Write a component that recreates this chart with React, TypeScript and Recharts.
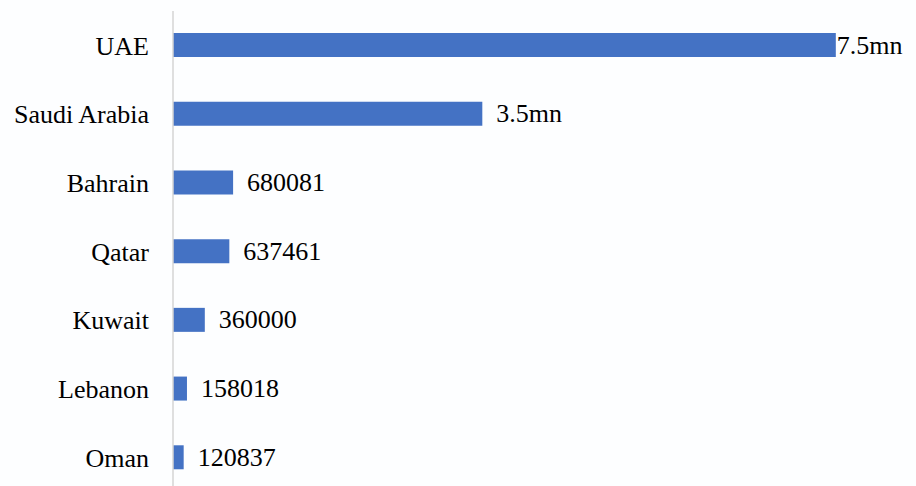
import React from 'react';
import { BarChart, Bar, XAxis, YAxis, LabelList } from 'recharts';

const countries = ['UAE', 'Saudi Arabia', 'Bahrain', 'Qatar', 'Kuwait', 'Lebanon', 'Oman'];
const values = [7500000, 3500000, 680081, 637461, 360000, 158018, 120837];
const valueLabels = ['7.5mn', '3.5mn', '680081', '637461', '360000', '158018', '120837'];

const data = countries.map((name, i) => ({ name, value: values[i], label: valueLabels[i] }));

const FONT = '"Liberation Serif", "Times New Roman", serif';

const renderLabel = (props: any) => {
  const { x, y, width, height, value, index } = props;
  const gap = index === 0 ? 1 : 14;
  return (
    <text
      x={Number(x) + Number(width) + gap}
      y={Number(y) + Number(height) / 2}
      dominantBaseline="central"
      fontFamily={FONT}
      fontSize={26}
      fill="#000"
    >
      {value}
    </text>
  );
};

export default function App() {
  return (
    <div style={{ position: 'absolute', left: 0, top: 0, width: 916, height: 486, overflow: 'hidden', background: '#fdfeff' }}>
      <BarChart
        width={916}
        height={500}
        data={data}
        layout="vertical"
        margin={{ top: 11, right: 36, bottom: 8, left: 0 }}
        barCategoryGap={0}
      >
        <XAxis type="number" domain={[0, 8000000]} hide />
        <YAxis
          type="category"
          dataKey="name"
          width={173}
          axisLine={{ stroke: '#d4d4d4', strokeWidth: 1.5 }}
          tickLine={false}
          tickSize={0}
          tickMargin={24}
          tick={{ fill: '#000', fontSize: 26, fontFamily: FONT }}
          interval={0}
        />
        <Bar dataKey="value" fill="#4472C4" barSize={24} isAnimationActive={false}>
          <LabelList dataKey="label" content={renderLabel} />
        </Bar>
      </BarChart>
    </div>
  );
}
